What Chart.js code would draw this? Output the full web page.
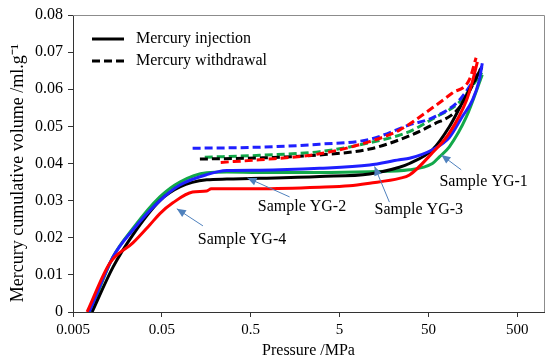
<!DOCTYPE html>
<html>
<head>
<meta charset="utf-8">
<script src="https://cdn.jsdelivr.net/npm/chart.js@4/dist/chart.umd.min.js"></script>
<style>
  html, body { margin: 0; padding: 0; background: #fff; }
  #wrap { width: 550px; height: 364px; }
</style>
</head>
<body>
<div id="wrap"><canvas id="myChart" width="550" height="364"></canvas></div>
<script>
// x ticks (MPa), log axis
const xTicks = [0.005, 0.05, 0.5, 5, 50, 500];

// mercury injection, pressure (MPa) / volume (ml/g)
const yg1InjP = [0.0078, 0.0141, 0.0236, 0.0475, 0.0797, 0.16, 0.27, 0.63, 2.98, 10.9, 30.6, 55.5, 66.5, 86, 134, 202];
const yg1InjV = [0, 0.0148, 0.0225, 0.031, 0.035, 0.0375, 0.0377, 0.0376, 0.0376, 0.0378, 0.0383, 0.040, 0.0418, 0.0445, 0.0526, 0.0639];
const yg2InjP = [0.0082, 0.0141, 0.0236, 0.0475, 0.0797, 0.16, 0.27, 0.63, 2.98, 10.9, 23.6, 30.6, 55.5, 86, 120, 200];
const yg2InjV = [0, 0.0121, 0.0208, 0.030, 0.0337, 0.0356, 0.0358, 0.036, 0.0365, 0.0372, 0.039, 0.040, 0.0437, 0.0499, 0.0563, 0.066];
const yg3InjP = [0.0076, 0.0141, 0.0236, 0.0475, 0.0797, 0.16, 0.27, 0.63, 2.98, 10.9, 23.6, 30.6, 55.5, 86, 120, 156, 187, 202];
const yg3InjV = [0, 0.0148, 0.0221, 0.030, 0.0342, 0.037, 0.0381, 0.0382, 0.0387, 0.0396, 0.041, 0.0414, 0.0437, 0.047, 0.0526, 0.057, 0.0625, 0.067];
const yg4InjP = [0.0072, 0.013, 0.0236, 0.0367, 0.0475, 0.0665, 0.111, 0.16, 0.18, 0.27, 0.63, 2.98, 6.47, 10.9, 23.6, 30.6, 55.5, 86, 134, 156, 178];
const yg4InjV = [0, 0.0132, 0.0186, 0.0235, 0.0265, 0.0294, 0.0323, 0.0326, 0.0332, 0.0332, 0.0332, 0.0336, 0.034, 0.0347, 0.036, 0.0369, 0.0429, 0.0482, 0.057, 0.062, 0.0674];

// mercury withdrawal
const yg1WdP = [0.152, 0.63, 2.98, 10.9, 30.6, 55.5, 111, 200];
const yg1WdV = [0.0417, 0.0422, 0.0432, 0.0456, 0.0486, 0.052, 0.0565, 0.0645];
const yg2WdP = [0.134, 0.63, 2.98, 10.9, 23.6, 55.5, 111, 200];
const yg2WdV = [0.0412, 0.0415, 0.0423, 0.0439, 0.0464, 0.0504, 0.055, 0.066];
const yg3WdP = [0.111, 0.63, 2.98, 10.9, 30.6, 55.5, 111, 200];
const yg3WdV = [0.0441, 0.0444, 0.0452, 0.0465, 0.0504, 0.0523, 0.057, 0.066];
const yg4WdP = [0.23, 0.63, 2.98, 10.9, 23.6, 55.5, 93, 144, 172];
const yg4WdV = [0.0403, 0.041, 0.0426, 0.0459, 0.049, 0.055, 0.059, 0.0625, 0.0685];

// sample labels: text position and arrow (from -> to), in data units
const notes = [
  { text: 'Sample YG-1', p: 66.5, v: 0.035, from: [117, 0.0383], to: [70, 0.0423] },
  { text: 'Sample YG-2', p: 0.6, v: 0.0283, from: [1.37, 0.031], to: [0.46, 0.0361] },
  { text: 'Sample YG-3', p: 12.4, v: 0.0275, from: [18.2, 0.0296], to: [12.4, 0.0392] },
  { text: 'Sample YG-4', p: 0.127, v: 0.0194, from: [0.145, 0.0232], to: [0.0737, 0.0278] }
];

const GREEN = '#12a84a', BLACK = '#000000', BLUE = '#1f1fff', RED = '#ff0000';
const FONT = '"Liberation Serif", "Times New Roman", serif';

function pts(px, vs) { return px.map((p, i) => ({ x: p, y: vs[i] })); }
function line(data, color, dashed) {
  return {
    data: data, borderColor: color, backgroundColor: color, borderWidth: 3,
    borderDash: dashed ? [8, 4] : [], showLine: true, pointRadius: 0,
    cubicInterpolationMode: 'monotone', fill: false
  };
}

const extras = {
  id: 'extras',
  beforeDatasetsDraw(chart) {
    const { ctx, chartArea: a } = chart;
    ctx.save();
    ctx.strokeStyle = '#8c8c8c';
    ctx.lineWidth = 1;
    ctx.beginPath();
    ctx.moveTo(a.left, a.top + 0.5);
    ctx.lineTo(a.right + 0.5, a.top + 0.5);
    ctx.lineTo(a.right + 0.5, a.bottom);
    ctx.stroke();
    // y axis title, drawn by hand so it sits where the original has it
    ctx.fillStyle = '#000';
    ctx.font = '18px ' + FONT;
    ctx.textAlign = 'center';
    ctx.textBaseline = 'middle';
    ctx.translate(18, 173);
    ctx.rotate(-Math.PI / 2);
    ctx.fillText('Mercury cumulative volume /ml.g\u207B\u00B9', 0, 0);
    ctx.restore();
  },
  afterDatasetsDraw(chart) {
    const { ctx } = chart;
    const xs = chart.scales.x, ys = chart.scales.y;
    ctx.save();
    // legend
    ctx.lineWidth = 3;
    ctx.strokeStyle = '#000';
    ctx.beginPath(); ctx.moveTo(92, 39); ctx.lineTo(124, 39); ctx.stroke();
    ctx.setLineDash([8, 4]);
    ctx.beginPath(); ctx.moveTo(92, 61); ctx.lineTo(124, 61); ctx.stroke();
    ctx.setLineDash([]);
    ctx.fillStyle = '#000';
    ctx.font = '16px ' + FONT;
    ctx.textBaseline = 'middle';
    ctx.fillText('Mercury injection', 136, 39);
    ctx.fillText('Mercury withdrawal', 136, 61);
    // sample notes with arrows
    notes.forEach(n => {
      ctx.fillStyle = '#000';
      ctx.fillText(n.text, xs.getPixelForValue(n.p), ys.getPixelForValue(n.v));
      const x1 = xs.getPixelForValue(n.from[0]), y1 = ys.getPixelForValue(n.from[1]);
      const x2 = xs.getPixelForValue(n.to[0]), y2 = ys.getPixelForValue(n.to[1]);
      ctx.strokeStyle = '#4f81bd';
      ctx.fillStyle = '#4f81bd';
      ctx.lineWidth = 1;
      ctx.beginPath(); ctx.moveTo(x1, y1); ctx.lineTo(x2, y2); ctx.stroke();
      const ang = Math.atan2(y2 - y1, x2 - x1), L = 9, W = 4;
      ctx.beginPath();
      ctx.moveTo(x2, y2);
      ctx.lineTo(x2 - L * Math.cos(ang) + W * Math.sin(ang), y2 - L * Math.sin(ang) - W * Math.cos(ang));
      ctx.lineTo(x2 - L * Math.cos(ang) - W * Math.sin(ang), y2 - L * Math.sin(ang) + W * Math.cos(ang));
      ctx.closePath(); ctx.fill();
    });
    ctx.restore();
  }
};

new Chart(document.getElementById('myChart'), {
  type: 'scatter',
  data: {
    datasets: [
      line(pts(yg4InjP, yg4InjV), RED, false),
      line(pts(yg3InjP, yg3InjV), BLUE, false),
      line(pts(yg2InjP, yg2InjV), BLACK, false),
      line(pts(yg1InjP, yg1InjV), GREEN, false),
      line(pts(yg4WdP, yg4WdV), RED, true),
      line(pts(yg3WdP, yg3WdV), BLUE, true),
      line(pts(yg2WdP, yg2WdV), BLACK, true),
      line(pts(yg1WdP, yg1WdV), GREEN, true)
    ]
  },
  options: {
    responsive: false,
    animation: false,
    layout: { padding: { top: 15, right: 6, left: 0, bottom: 0 } },
    plugins: { legend: { display: false }, tooltip: { enabled: false } },
    scales: {
      x: {
        type: 'logarithmic', min: 0.005, max: 1000,
        afterBuildTicks: s => { s.ticks = xTicks.map(v => ({ value: v })); },
        afterFit: s => { s.height = 52; },
        ticks: { color: '#000', font: { family: FONT, size: 15 }, padding: 4, maxRotation: 0,
          callback: v => String(v) },
        grid: { display: true, drawOnChartArea: false, tickLength: 5, color: '#333' },
        border: { color: '#333' },
        title: { display: true, text: 'Pressure /MPa', color: '#000', font: { family: FONT, size: 16 }, padding: { top: 2 } }
      },
      y: {
        min: 0, max: 0.08,
        afterFit: s => { s.width = 73; },
        ticks: { stepSize: 0.01, color: '#000', font: { family: FONT, size: 16 }, padding: 5,
          callback: v => String(+v.toFixed(2)) },
        grid: { display: true, drawOnChartArea: false, tickLength: 5, color: '#333' },
        border: { color: '#333' },
        title: { display: false }
      }
    }
  },
  plugins: [extras]
});
</script>
</body>
</html>
